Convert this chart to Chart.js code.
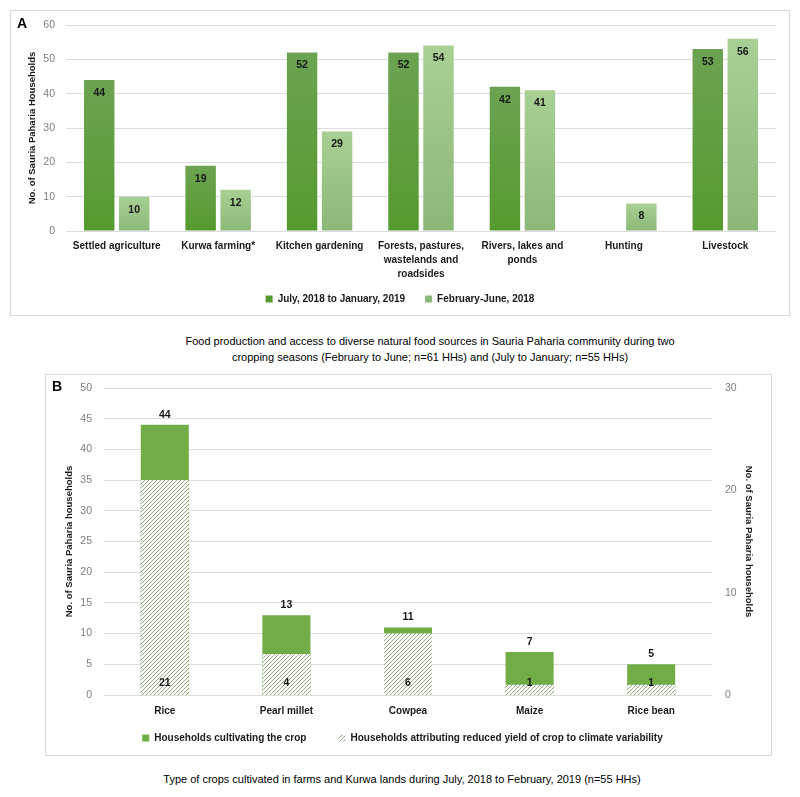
<!DOCTYPE html>
<html><head><meta charset="utf-8">
<script src="https://cdn.jsdelivr.net/npm/chart.js@4"></script>
<style>
body{margin:0;background:#fff;width:800px;height:797px;position:relative;overflow:hidden;}
.box{position:absolute;border:1px solid #d9d9d9;box-sizing:border-box;background:#fff;}
.box canvas{position:absolute;left:0;top:0;}
.panel{position:absolute;font:bold 14px 'Liberation Sans',Arial,sans-serif;color:#000;line-height:16px;}
.cap{position:absolute;text-align:center;font-family:'Liberation Sans',Arial,sans-serif;font-size:11px;color:#000;line-height:16px;}
</style></head>
<body>
<div class="box" style="left:10px;top:10px;width:780px;height:306px;"><canvas id="cA" width="778" height="304"></canvas></div>
<div class="panel" style="left:17px;top:15px;">A</div>
<div class="cap" style="left:0;top:333px;width:860px;">Food production and access to diverse natural food sources in Sauria Paharia community during two<br>cropping seasons (February to June; n=61 HHs) and (July to January; n=55 HHs)</div>
<div class="box" style="left:45px;top:374px;width:727px;height:382px;"><canvas id="cB" width="725" height="380"></canvas></div>
<div class="panel" style="left:52px;top:378px;">B</div>
<div class="cap" style="left:0;top:771px;width:804px;">Type of crops cultivated in farms and Kurwa lands during July, 2018 to February, 2019 (n=55 HHs)</div>
<script>
// ---------- Data: panel A ----------
const catsA = ['Settled agriculture', 'Kurwa farming*', 'Kitchen gardening',
  ['Forests, pastures,', 'wastelands and', 'roadsides'], ['Rivers, lakes and', 'ponds'], 'Hunting', 'Livestock'];
const julyJanA = [44, 19, 52, 52, 42, null, 53];
const febJuneA = [10, 12, 29, 54, 41, 8, 56];
const seriesA = ['July, 2018 to January, 2019', 'February-June, 2018'];
const yTitleA = 'No. of Sauria Paharia Households';

// ---------- Data: panel B ----------
const catsB = ['Rice', 'Pearl millet', 'Cowpea', 'Maize', 'Rice bean'];
const cultivatingB = [44, 13, 11, 7, 5];
const reducedYieldB = [21, 4, 6, 1, 1];
const seriesB = ['Households cultivating the crop', 'Households attributing reduced yield of crop to climate variability'];
const yTitleB = 'No. of Sauria Paharia households';

const F = "'Liberation Sans',Arial,sans-serif";
Chart.defaults.font.family = F;

function barGrad(top, bottom, axis) {
  return (ctx) => {
    const c = ctx.chart;
    if (ctx.type !== 'data' || !c.chartArea) return bottom;
    const s = c.scales[axis];
    const y0 = s.getPixelForValue(ctx.raw), y1 = s.getPixelForValue(0);
    if (!isFinite(y0) || !isFinite(y1) || y0 === y1) return bottom;
    const g = c.ctx.createLinearGradient(0, y0, 0, y1);
    g.addColorStop(0, top); g.addColorStop(1, bottom);
    return g;
  };
}

// vertical axes: fixed width, no extra top/bottom padding from tick labels
function fixV(w) { return (s) => { s.width = w; s.paddingTop = 0; s.paddingBottom = 0; }; }
// horizontal axis: fixed height, labels not clipped to the axis box
function fixH(h, padR) { return (s) => { s.height = h; if (padR != null) s.paddingRight = padR; s._computeLabelArea = () => undefined; }; }

const valuePlugin = {
  id: 'vals',
  afterDatasetsDraw(chart, args, opts) {
    const ctx = chart.ctx;
    ctx.save();
    ctx.font = opts.font;
    ctx.fillStyle = '#161616';
    ctx.textAlign = 'center';
    ctx.textBaseline = 'middle';
    chart.data.datasets.forEach((ds, i) => {
      const meta = chart.getDatasetMeta(i);
      const pos = opts.positions[i];
      meta.data.forEach((el, j) => {
        const v = ds.data[j];
        if (v == null) return;
        let y;
        if (pos === 'insideTop') y = el.y + 13;
        else if (pos === 'above') y = el.y - 10;
        else y = el.base - 12;
        ctx.fillText(String(v), el.x, y);
      });
    });
    ctx.restore();
  }
};

// ---------- Chart A ----------
new Chart(document.getElementById('cA'), {
  type: 'bar',
  data: {
    labels: catsA,
    datasets: [
      { label: seriesA[0], data: julyJanA, backgroundColor: barGrad('#6ca352', '#559a2e', 'y'),
        categoryPercentage: 0.69, barPercentage: 0.87 },
      { label: seriesA[1], data: febJuneA, backgroundColor: barGrad('#a9d094', '#8bb878', 'y'),
        categoryPercentage: 0.69, barPercentage: 0.87 }
    ]
  },
  options: {
    responsive: false, animation: false, devicePixelRatio: 1,
    layout: { padding: { left: 0, right: 0, top: 14, bottom: 1 } },
    scales: {
      x: {
        grid: { display: false, drawTicks: false }, border: { display: false },
        ticks: { color: '#1a1a1a', font: { size: 10, weight: 'bold', lineHeight: 1.4 }, padding: 8, maxRotation: 0, autoSkip: false },
        afterFit: fixH(43, 13)
      },
      y: {
        min: 0, max: 60,
        ticks: { stepSize: 10, color: '#7f7f7f', font: { size: 10.5 }, padding: 11 },
        grid: { color: '#dcdcdc', drawTicks: false }, border: { display: false },
        title: { display: true, text: yTitleA, color: '#1a1a1a', font: { size: 9.5, weight: 'bold', lineHeight: 1.2 }, padding: { top: 16, bottom: 0 } },
        afterFit: fixV(55)
      }
    },
    plugins: {
      legend: {
        position: 'bottom',
        labels: { boxWidth: 7, boxHeight: 7, padding: 20, color: '#1a1a1a', font: { size: 10, weight: 'bold' } }
      },
      tooltip: { enabled: false },
      vals: { font: "bold 10.5px " + F, positions: ['insideTop', 'insideTop'] }
    }
  },
  plugins: [valuePlugin]
});

// ---------- Chart B ----------
const cB = document.getElementById('cB');
function makeHatch(ctx2d) {
  const t = document.createElement('canvas');
  t.width = 4; t.height = 4;
  const g = t.getContext('2d');
  g.fillStyle = '#ffffff'; g.fillRect(0, 0, 4, 4);
  g.strokeStyle = '#8fab7c'; g.lineWidth = 1;
  g.beginPath();
  g.moveTo(0, 4); g.lineTo(4, 0);
  g.moveTo(-1, 1); g.lineTo(1, -1);
  g.moveTo(3, 5); g.lineTo(5, 3);
  g.stroke();
  return ctx2d.createPattern(t, 'repeat');
}
const hatch = makeHatch(cB.getContext('2d'));

new Chart(cB, {
  type: 'bar',
  data: {
    labels: catsB,
    datasets: [
      { label: seriesB[1], data: reducedYieldB, yAxisID: 'y1', backgroundColor: hatch, borderWidth: 0,
        grouped: false, categoryPercentage: 1, barPercentage: 0.395 },
      { label: seriesB[0], data: cultivatingB, yAxisID: 'y', backgroundColor: '#70ad47', borderWidth: 0,
        grouped: false, categoryPercentage: 1, barPercentage: 0.395 }
    ]
  },
  options: {
    responsive: false, animation: false, devicePixelRatio: 1,
    layout: { padding: { left: 0, right: 12, top: 13, bottom: 2 } },
    scales: {
      x: {
        grid: { display: false, drawTicks: false }, border: { display: false },
        ticks: { color: '#1a1a1a', font: { size: 10, weight: 'bold', lineHeight: 1.2 }, padding: 10, maxRotation: 0, autoSkip: false },
        afterFit: fixH(6)
      },
      y: {
        position: 'left', min: 0, max: 50,
        ticks: { stepSize: 5, color: '#7f7f7f', font: { size: 10.5 }, padding: 12 },
        grid: { color: '#dcdcdc', drawTicks: false }, border: { display: false },
        title: { display: true, text: yTitleB, color: '#1a1a1a', font: { size: 9.5, weight: 'bold', lineHeight: 1.2 }, padding: { top: 18, bottom: 0 } },
        afterFit: fixV(58)
      },
      y1: {
        position: 'right', min: 0, max: 30,
        ticks: { stepSize: 10, color: '#7f7f7f', font: { size: 10.5 }, padding: 13 },
        grid: { display: false, drawTicks: false }, border: { display: false },
        title: { display: true, text: yTitleB, color: '#1a1a1a', font: { size: 9.5, weight: 'bold', lineHeight: 1.2 }, padding: { top: 5, bottom: 0 } },
        afterFit: fixV(47)
      }
    },
    plugins: {
      legend: {
        position: 'bottom', reverse: true,
        labels: { boxWidth: 7, boxHeight: 7, padding: 32, color: '#1a1a1a', font: { size: 10, weight: 'bold' } }
      },
      tooltip: { enabled: false },
      vals: { font: "bold 10.5px " + F, positions: ['bottom', 'above'] }
    }
  },
  plugins: [valuePlugin]
});
</script>
</body></html>
